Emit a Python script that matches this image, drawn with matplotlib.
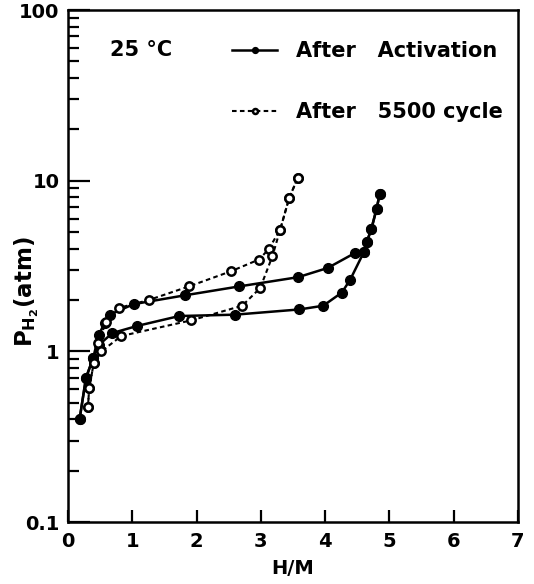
import matplotlib
matplotlib.use("Agg")
import matplotlib.pyplot as plt
from matplotlib.ticker import FixedLocator, NullFormatter

# --- data ---
act_abs_x = [0.18, 0.28, 0.39, 0.48, 0.57, 0.65, 1.02, 1.82, 2.66, 3.58, 4.04, 4.47, 4.60, 4.65, 4.72, 4.80, 4.85]
act_abs_y = [0.40, 0.70, 0.91, 1.25, 1.47, 1.64, 1.89, 2.13, 2.40, 2.72, 3.08, 3.78, 3.80, 4.39, 5.23, 6.83, 8.40]
act_des_x = [4.85, 4.80, 4.72, 4.65, 4.60, 4.39, 4.26, 3.97, 3.60, 2.60, 1.73, 1.08, 0.69, 0.48, 0.39, 0.28, 0.18]
act_des_y = [8.40, 6.83, 5.23, 4.39, 3.80, 2.63, 2.21, 1.85, 1.76, 1.64, 1.61, 1.41, 1.28, 1.09, 0.91, 0.70, 0.40]

cyc_abs_x = [0.31, 0.33, 0.40, 0.47, 0.59, 0.80, 1.26, 1.88, 2.53, 2.97, 3.12, 3.30, 3.44, 3.57]
cyc_abs_y = [0.47, 0.61, 0.85, 1.12, 1.48, 1.80, 2.00, 2.40, 2.94, 3.45, 3.96, 5.16, 7.90, 10.3]
cyc_des_x = [3.57, 3.44, 3.30, 3.18, 2.99, 2.71, 1.92, 0.83, 0.52, 0.40, 0.33, 0.31]
cyc_des_y = [10.3, 7.90, 5.16, 3.61, 2.35, 1.85, 1.52, 1.23, 1.00, 0.85, 0.61, 0.47]

x_ticks = [0, 1, 2, 3, 4, 5, 6, 7]
y_ticks = [0.1, 1, 10, 100]
y_tick_labels = ["0.1", "1", "10", "100"]
label_act = "After   Activation"
label_cyc = "After   5500 cycle"
temp_text = "25 \u00b0C"

plt.rcParams['font.family'] = ['DejaVu Sans']
plt.rcParams['font.weight'] = 'bold'
plt.rcParams['axes.labelweight'] = 'bold'
plt.rcParams['mathtext.default'] = 'bf'

fig = plt.figure(figsize=(5.34, 5.84), dpi=100)
ax = fig.add_axes([68/534, 1-522/584, (518-68)/534, (522-10)/584])

lw = 1.8
dash = (0, (2.2, 1.6))
ax.plot(act_abs_x, act_abs_y, '-', color='black', lw=lw, marker='o', ms=7,
        mfc='black', mec='black', label=label_act)
ax.plot(act_des_x, act_des_y, '-', color='black', lw=lw, marker='o', ms=7,
        mfc='black', mec='black')
ax.plot(cyc_abs_x, cyc_abs_y, color='black', lw=1.5, ls=dash, marker='o', ms=6,
        mfc='white', mec='black', mew=1.8, label=label_cyc)
ax.plot(cyc_des_x, cyc_des_y, color='black', lw=1.5, ls=dash, marker='o', ms=6,
        mfc='white', mec='black', mew=1.8)

ax.set_yscale('log')
ax.set_xlim(0, 7)
ax.set_ylim(0.1, 100)

for s in ax.spines.values():
    s.set_linewidth(1.8)

ax.xaxis.set_major_locator(FixedLocator(x_ticks))
ax.set_xticklabels([str(t) for t in x_ticks])
ax.yaxis.set_major_locator(FixedLocator(y_ticks))
ax.set_yticklabels(y_tick_labels)
minor = [m * 10.0**e for e in (-1, 0, 1) for m in range(2, 10)]
ax.yaxis.set_minor_locator(FixedLocator(minor))
ax.yaxis.set_minor_formatter(NullFormatter())
ax.xaxis.set_minor_locator(FixedLocator([]))

ax.tick_params(axis='x', which='major', direction='in', length=9, width=1.6,
               labelsize=14, pad=7, top=False)
ax.tick_params(axis='y', which='major', direction='in', length=16, width=1.6,
               labelsize=14, pad=6, right=False)
ax.tick_params(axis='y', which='minor', direction='in', length=8, width=1.6, right=False)

ax.set_xlabel("H/M", fontsize=14, labelpad=6, fontweight='bold')
ax.set_ylabel(r"P$_{H_2}$(atm)", fontsize=16.5, fontweight='bold')
ax.yaxis.set_label_coords(-0.06, 0.45)

ax.text(0.093, 0.922, temp_text, transform=ax.transAxes, fontsize=15,
        ha='left', va='center')
leg = ax.legend(loc='upper left', bbox_to_anchor=(0.345, 0.955), frameon=False,
                fontsize=15, handlelength=2.2, handletextpad=0.9, labelspacing=1.95,
                borderaxespad=0, markerscale=0.6)

fig.savefig("out.png", dpi=100)
